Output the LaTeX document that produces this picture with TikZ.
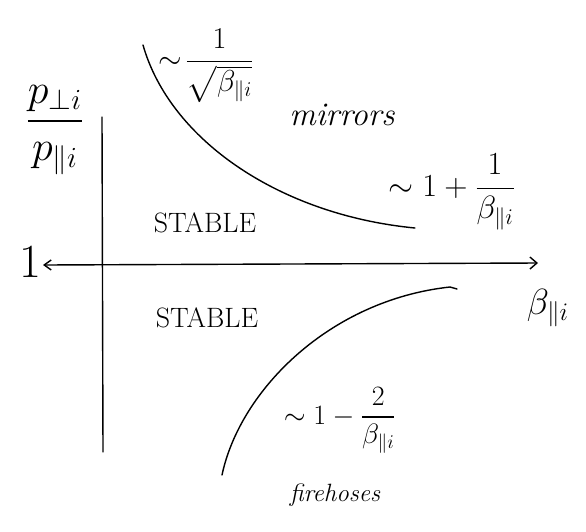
\documentclass[tikz,border=0pt]{standalone}
\usepackage{amsmath}
\usepackage{fontspec}
\usetikzlibrary{arrows.meta}
\begin{document}
\begin{tikzpicture}[x=1pt,y=-1pt,
  ink/.style={line width=1.4pt, line cap=round, line join=round},
  lbl/.style={inner sep=0pt, font=\huge, scale=1.35, transform shape},
  word/.style={inner sep=0pt, font=\fontsize{33}{36}\selectfont\itshape}]
\useasboundingbox (0,0) rectangle (586,531);
% axes
\coordinate (vtop) at (102,117);
\coordinate (vbot) at (103,452);
\coordinate (hl) at (43,265);
\coordinate (hr) at (538,263);
\draw[ink] (vtop) -- (vbot);
\draw[ink, {Straight Barb[length=7pt,width=10pt]}-{Straight Barb[length=7pt,width=12pt]}] (hl) -- (hr);
% curves
\coordinate (m0) at (143,45);
\coordinate (m1) at (415,228);
\draw[ink] (m0) .. controls (170,140) and (280,215) .. (m1);
\coordinate (f0) at (222,475);
\coordinate (f1) at (450,287);
\coordinate (f2) at (457,289);
\draw[ink] (f0) .. controls (240,390) and (330,300) .. (f1) -- (f2);
% labels
\node[lbl, scale=1.5] (ylab) at (55,130) {$\dfrac{p_{\perp i}}{p_{\parallel i}}$};
\node[lbl, scale=1.7] (one) at (30,262) {$1$};
\node[lbl, scale=1.08] (mirfit) at (206,66) {$\sim\!\dfrac{1}{\sqrt{\beta_{\parallel i}}}$};
\node[word] (mirrors) at (342,115) {mirrors};
\node[lbl, scale=1.15] (mirasym) at (452,192) {$\sim 1+\dfrac{1}{\beta_{\parallel i}}$};
\node[word, font=\fontsize{28}{32}\selectfont] (stab1) at (205,223) {STABLE};
\node[word, font=\fontsize{28}{32}\selectfont] (stab2) at (207,318) {STABLE};
\node[lbl, scale=1.3] (xlab) at (548,308) {$\beta_{\parallel i}$};
\node[lbl, scale=1.0] (firefit) at (340,420) {$\sim 1-\dfrac{2}{\beta_{\parallel i}}$};
\node[word, font=\fontsize{25}{28}\selectfont\itshape] (fire) at (335,495) {firehoses};
\end{tikzpicture}
\end{document}
